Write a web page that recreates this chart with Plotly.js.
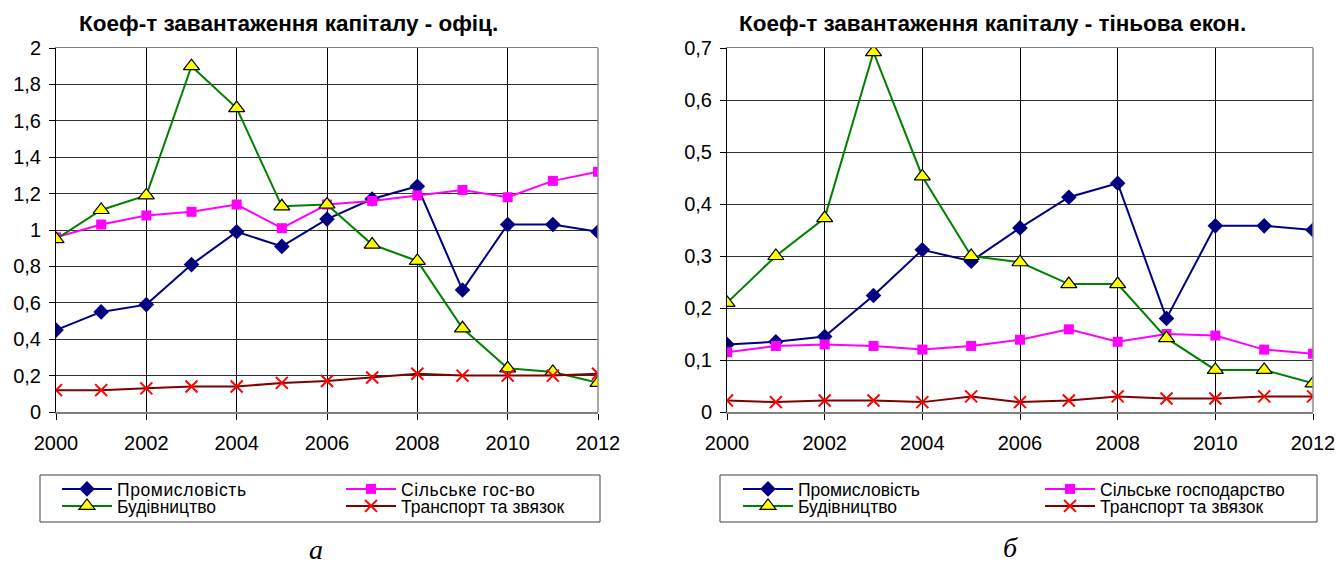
<!DOCTYPE html>
<html>
<head>
<meta charset="utf-8">
<script src="https://cdn.plot.ly/plotly-3.0.1.min.js"></script>
<style>html,body{margin:0;padding:0;background:#fff;}#chart{width:1337px;height:565px;}
#chart .legendtext{letter-spacing:0.6px;}</style>
</head>
<body>
<div id="chart"></div>
<script>
// ---- data ----
const years = [2000, 2001, 2002, 2003, 2004, 2005, 2006, 2007, 2008, 2009, 2010, 2011, 2012];

const seriesNames = ['Промисловість', 'Сільське гос-во', 'Будівництво', 'Транспорт та звязок'];
const seriesNamesShadow = ['Промисловість', 'Сільське господарство', 'Будівництво', 'Транспорт та звязок'];

const offIndustry     = [0.45, 0.55, 0.59, 0.81, 0.99, 0.91, 1.06, 1.17, 1.24, 0.67, 1.03, 1.03, 0.99];
const offAgriculture  = [0.96, 1.03, 1.08, 1.10, 1.14, 1.01, 1.14, 1.16, 1.19, 1.22, 1.18, 1.27, 1.32];
const offConstruction = [0.95, 1.11, 1.19, 1.90, 1.67, 1.13, 1.14, 0.92, 0.83, 0.46, 0.24, 0.22, 0.16];
const offTransport    = [0.12, 0.12, 0.13, 0.14, 0.14, 0.16, 0.17, 0.19, 0.21, 0.20, 0.20, 0.20, 0.21];

const shIndustry      = [0.13, 0.135, 0.145, 0.224, 0.312, 0.29, 0.354, 0.413, 0.44, 0.18, 0.358, 0.358, 0.35];
const shAgriculture   = [0.115, 0.127, 0.13, 0.127, 0.12, 0.127, 0.139, 0.159, 0.135, 0.15, 0.147, 0.12, 0.112];
const shConstruction  = [0.21, 0.30, 0.373, 0.692, 0.453, 0.30, 0.288, 0.246, 0.246, 0.142, 0.081, 0.081, 0.055];
const shTransport     = [0.022, 0.019, 0.022, 0.022, 0.019, 0.03, 0.019, 0.022, 0.03, 0.026, 0.026, 0.03, 0.03];

const titleLeft = 'Коеф-т завантаження капіталу - офіц.';
const titleRight = 'Коеф-т завантаження капіталу - тіньова екон.';
const captionLeft = 'а';
const captionRight = 'б';

// ---- layout helpers ----
const W = 1337, H = 565;
const px = v => v / W;
const py = v => (H - v) / H;
const SANS = '"Liberation Sans", Arial, sans-serif';

const styles = [
  {line: {color: '#000080', width: 2}, marker: {symbol: 'diamond', size: 12, color: '#000080'}},
  {line: {color: '#ff00ff', width: 2}, marker: {symbol: 'square', size: 10, color: '#ff00ff'}},
  {line: {color: '#008000', width: 2}, marker: {symbol: 'triangle-up', size: 14, color: '#ffff00', line: {color: '#000000', width: 1.2}}},
  {line: {color: '#800000', width: 2}, marker: {symbol: 'x-thin', size: 12, color: '#ff0000', line: {color: '#ff0000', width: 2}}}
];

function mk(y, i, names, xa, ya, legRow1, legRow2) {
  return Object.assign({
    x: years, y: y, name: names[i], type: 'scatter', mode: 'lines+markers',
    xaxis: xa, yaxis: ya, legend: (i < 2 ? legRow1 : legRow2)
  }, JSON.parse(JSON.stringify(styles[i])));
}

const traces = [
  mk(offIndustry, 0, seriesNames, 'x', 'y', 'legend', 'legend3'),
  mk(offAgriculture, 1, seriesNames, 'x', 'y', 'legend', 'legend3'),
  mk(offConstruction, 2, seriesNames, 'x', 'y', 'legend', 'legend3'),
  mk(offTransport, 3, seriesNames, 'x', 'y', 'legend', 'legend3'),
  mk(shIndustry, 0, seriesNamesShadow, 'x2', 'y2', 'legend2', 'legend4'),
  mk(shAgriculture, 1, seriesNamesShadow, 'x2', 'y2', 'legend2', 'legend4'),
  mk(shConstruction, 2, seriesNamesShadow, 'x2', 'y2', 'legend2', 'legend4'),
  mk(shTransport, 3, seriesNamesShadow, 'x2', 'y2', 'legend2', 'legend4')
];

const yDom = [py(412), py(48)];

function xax(dom, anchor) {
  return {
    domain: dom, anchor: anchor, range: [2000, 2012], tick0: 2000, dtick: 2,
    showgrid: true, gridcolor: '#000000', gridwidth: 1, zeroline: false,
    showline: true, linecolor: '#808080', linewidth: 1.5, mirror: true,
    ticks: 'outside', ticklen: 6, tickcolor: '#000000', tickwidth: 1,
    ticklabelstandoff: 6,
    tickfont: {family: SANS, size: 20, color: '#000'}, fixedrange: true
  };
}
function yax(range, dtick, anchor) {
  return {
    domain: yDom, anchor: anchor, range: range, dtick: dtick, tick0: 0,
    showgrid: true, gridcolor: '#303030', gridwidth: 1, zeroline: false,
    showline: true, linecolor: '#000000', linewidth: 1,
    ticks: 'outside', ticklen: 6, tickcolor: '#000000', tickwidth: 1,
    ticklabelstandoff: 4,
    tickfont: {family: SANS, size: 20, color: '#000'}, fixedrange: true
  };
}

function leg(xLeft, yCenter, entryW) {
  return {
    orientation: 'h', x: px(xLeft), xanchor: 'left', y: py(yCenter), yanchor: 'middle',
    entrywidth: entryW, entrywidthmode: 'pixels', itemwidth: 50,
    bgcolor: 'rgba(0,0,0,0)', borderwidth: 0,
    font: {family: SANS, size: 17.5, color: '#000'}, tracegroupgap: 0
  };
}

const frameColor = '#8c8c8c';

const layout = {
  width: W, height: H, margin: {l: 0, r: 0, t: 0, b: 0, autoexpand: false},
  paper_bgcolor: '#ffffff', plot_bgcolor: '#ffffff',
  separators: ', ', showlegend: true,
  font: {family: SANS, color: '#000'},
  xaxis: xax([px(56), px(598)], 'y'),
  yaxis: yax([0, 2], 0.2, 'x'),
  xaxis2: xax([px(727), px(1313)], 'y2'),
  yaxis2: yax([0, 0.7], 0.1, 'x2'),
  legend: leg(57, 489, 219),
  legend3: leg(57, 506, 219),
  legend2: leg(738, 489, 237),
  legend4: leg(738, 506, 237),
  shapes: [
    {type: 'line', xref: 'paper', yref: 'paper', x0: px(598), x1: px(598), y0: py(412), y1: py(48), line: {color: frameColor, width: 1.5}},
    {type: 'line', xref: 'paper', yref: 'paper', x0: px(1313), x1: px(1313), y0: py(412), y1: py(48), line: {color: frameColor, width: 1.5}},
    {type: 'rect', xref: 'paper', yref: 'paper', x0: px(40), x1: px(600), y0: py(522), y1: py(475), line: {color: '#404040', width: 1}, fillcolor: 'rgba(0,0,0,0)'},
    {type: 'rect', xref: 'paper', yref: 'paper', x0: px(720), x1: px(1317), y0: py(522), y1: py(475), line: {color: '#404040', width: 1}, fillcolor: 'rgba(0,0,0,0)'}
  ],
  annotations: [
    {text: '<b>' + titleLeft + '</b>', xref: 'paper', yref: 'paper', x: px(288), y: py(23), xanchor: 'center', yanchor: 'middle', showarrow: false, font: {family: SANS, size: 22.5, color: '#000'}},
    {text: '<b>' + titleRight + '</b>', xref: 'paper', yref: 'paper', x: px(992), y: py(23), xanchor: 'center', yanchor: 'middle', showarrow: false, font: {family: SANS, size: 22.5, color: '#000'}},
    {text: captionLeft, xref: 'paper', yref: 'paper', x: px(316), y: py(549), xanchor: 'center', yanchor: 'middle', showarrow: false, font: {family: '"Liberation Serif", "Times New Roman", serif', size: 28, style: 'italic', color: '#000'}},
    {text: captionRight, xref: 'paper', yref: 'paper', x: px(1010), y: py(547), xanchor: 'center', yanchor: 'middle', showarrow: false, font: {family: '"Liberation Serif", "Times New Roman", serif', size: 28, style: 'italic', color: '#000'}}
  ]
};

Plotly.newPlot('chart', traces, layout, {staticPlot: true, displayModeBar: false});
</script>
</body>
</html>
